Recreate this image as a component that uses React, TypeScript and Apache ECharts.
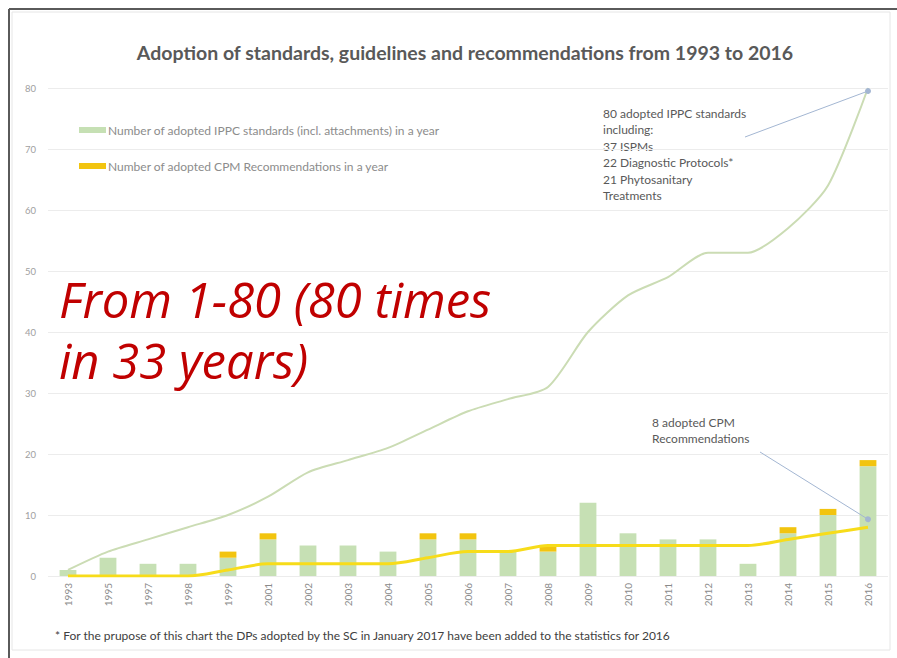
import React, { useEffect, useRef } from "react";
import * as echarts from "echarts";

const categories = [
  "1993", "1995", "1997", "1998", "1999", "2001", "2002", "2003", "2004", "2005", "2006",
  "2007", "2008", "2009", "2010", "2011", "2012", "2013", "2014", "2015", "2016",
];
const ippcPerYear = [1, 3, 2, 2, 3, 6, 5, 5, 4, 6, 6, 4, 4, 12, 7, 6, 6, 2, 7, 10, 18];
const cpmPerYear = [0, 0, 0, 0, 1, 1, 0, 0, 0, 1, 1, 0, 1, 0, 0, 0, 0, 0, 1, 1, 1];
const ippcCumulative = [1, 4, 6, 8, 10, 13, 17, 19, 21, 24, 27, 29, 31, 40, 46, 49, 53, 53, 57, 64, 80];
const cpmCumulative = [0, 0, 0, 0, 1, 2, 2, 2, 2, 3, 4, 4, 5, 5, 5, 5, 5, 5, 6, 7, 8];
const yTicks = { min: 0, max: 80, interval: 10 };

const ippcName = "Number of adopted IPPC standards (incl. attachments) in a year";
const cpmName = "Number of adopted CPM Recommendations in a year";
const titleText = "Adoption of standards, guidelines and recommendations from 1993 to 2016";
const ippcNote = "80 adopted IPPC standards\nincluding:\n37 ISPMs\n22 Diagnostic Protocols*\n21 Phytosanitary\nTreatments";
const cpmNote = "8 adopted CPM\nRecommendations";
const footnote =
  "* For the prupose of this chart the DPs adopted by the SC in January 2017 have been added to the statistics for 2016";
const bigText = ["From 1-80 (80 times", "in 33 years)"];

export default function App() {
  const ref = useRef<HTMLDivElement>(null);
  useEffect(() => {
    if (!ref.current) return;
    const chart = echarts.init(ref.current, undefined, { renderer: "svg" });
    const font = "Lato, 'Open Sans', sans-serif";
    const arrowStyle = { color: "#a3b6d2", width: 1, type: "solid" as const };
    chart.setOption({
      animation: false,
      backgroundColor: "#ffffff",
      textStyle: { fontFamily: font },
      grid: { left: 48, right: 9, top: 88, bottom: 82, containLabel: false },
      legend: {
        data: [ippcName, cpmName],
        orient: "vertical",
        left: 74,
        top: 119,
        itemWidth: 27,
        itemHeight: 6,
        itemGap: 24,
        icon: "rect",
        textStyle: { color: "#8c8c8c", fontSize: 12, fontFamily: font, padding: [0, 0, 0, -3] },
      },
      xAxis: {
        type: "category",
        data: categories,
        boundaryGap: true,
        axisLine: { show: false },
        axisTick: { show: false },
        axisLabel: { rotate: 90, color: "#8a8a8a", fontSize: 10, margin: 7, fontFamily: font },
      },
      yAxis: {
        type: "value",
        min: yTicks.min,
        max: yTicks.max,
        interval: yTicks.interval,
        axisLine: { show: false },
        axisTick: { show: false },
        axisLabel: { color: "#a0a0a0", fontSize: 9.5, margin: 12, fontFamily: font },
        splitLine: { lineStyle: { color: "#ececec", width: 1 } },
      },
      series: [
        {
          name: ippcName,
          type: "bar",
          stack: "total",
          data: ippcPerYear,
          barWidth: "42%",
          itemStyle: { color: "#c6e0b4" },
        },
        {
          name: cpmName,
          type: "bar",
          stack: "total",
          data: cpmPerYear,
          barWidth: "42%",
          itemStyle: { color: "#f2c40f" },
        },
        {
          name: "IPPC cumulative",
          type: "line",
          data: ippcCumulative,
          smooth: 0.25,
          showSymbol: false,
          lineStyle: { color: "#cbdcb4", width: 2 },
          z: 3,
          markLine: {
            silent: true,
            symbol: ["none", "circle"],
            symbolSize: 6,
            label: { show: false },
            lineStyle: arrowStyle,
            data: [[{ x: 745, y: 137 }, { coord: ["2016", 79.5] }]],
          },
        },
        {
          name: "CPM cumulative",
          type: "line",
          data: cpmCumulative,
          smooth: 0.3,
          showSymbol: false,
          lineStyle: { color: "#f7dc1a", width: 3 },
          z: 4,
          markLine: {
            silent: true,
            symbol: ["none", "circle"],
            symbolSize: 6,
            label: { show: false },
            lineStyle: arrowStyle,
            data: [[{ x: 760, y: 452 }, { coord: ["2016", 9.3] }]],
          },
        },
      ],
      graphic: [
        {
          type: "rect",
          shape: { x: 12, y: 12, width: 878, height: 638 },
          style: { fill: "none", stroke: "#e6e6e6", lineWidth: 1 },
          silent: true,
        },
        {
          type: "line",
          shape: { x1: 9, y1: 9, x2: 897, y2: 9 },
          style: { stroke: "#5a5a5a", lineWidth: 2 },
          silent: true,
        },
        {
          type: "line",
          shape: { x1: 9, y1: 9, x2: 9, y2: 658 },
          style: { stroke: "#5a5a5a", lineWidth: 2 },
          silent: true,
        },
        {
          type: "text",
          x: 465,
          y: 52,
          style: {
            text: titleText,
            fill: "#595959",
            font: `bold 19.5px ${font}`,
            textAlign: "center",
            textVerticalAlign: "middle",
          },
        },
        {
          type: "text",
          x: 603,
          y: 105,
          style: {
            text: ippcNote,
            fill: "#595959",
            font: `12px ${font}`,
            lineHeight: 16.5,
          },
        },
        {
          type: "text",
          x: 652,
          y: 415,
          style: {
            text: cpmNote,
            fill: "#595959",
            font: `12px ${font}`,
            lineHeight: 15.5,
          },
        },
        {
          type: "text",
          x: 55,
          y: 635,
          style: {
            text: footnote,
            fill: "#404040",
            font: `12px ${font}`,
            textVerticalAlign: "middle",
          },
        },
        {
          type: "text",
          x: 59,
          y: 299,
          style: {
            text: bigText[0],
            fill: "#c00000",
            font: `italic 49px 'Open Sans', sans-serif`,
            textVerticalAlign: "middle",
          },
        },
        {
          type: "text",
          x: 59,
          y: 360,
          style: {
            text: bigText[1],
            fill: "#c00000",
            font: `italic 49px 'Open Sans', sans-serif`,
            textVerticalAlign: "middle",
          },
        },
      ],
    });
    return () => chart.dispose();
  }, []);
  return (
    <div
      ref={ref}
      style={{ position: "fixed", left: 0, top: 0, width: 897, height: 658, background: "#fff" }}
    />
  );
}
